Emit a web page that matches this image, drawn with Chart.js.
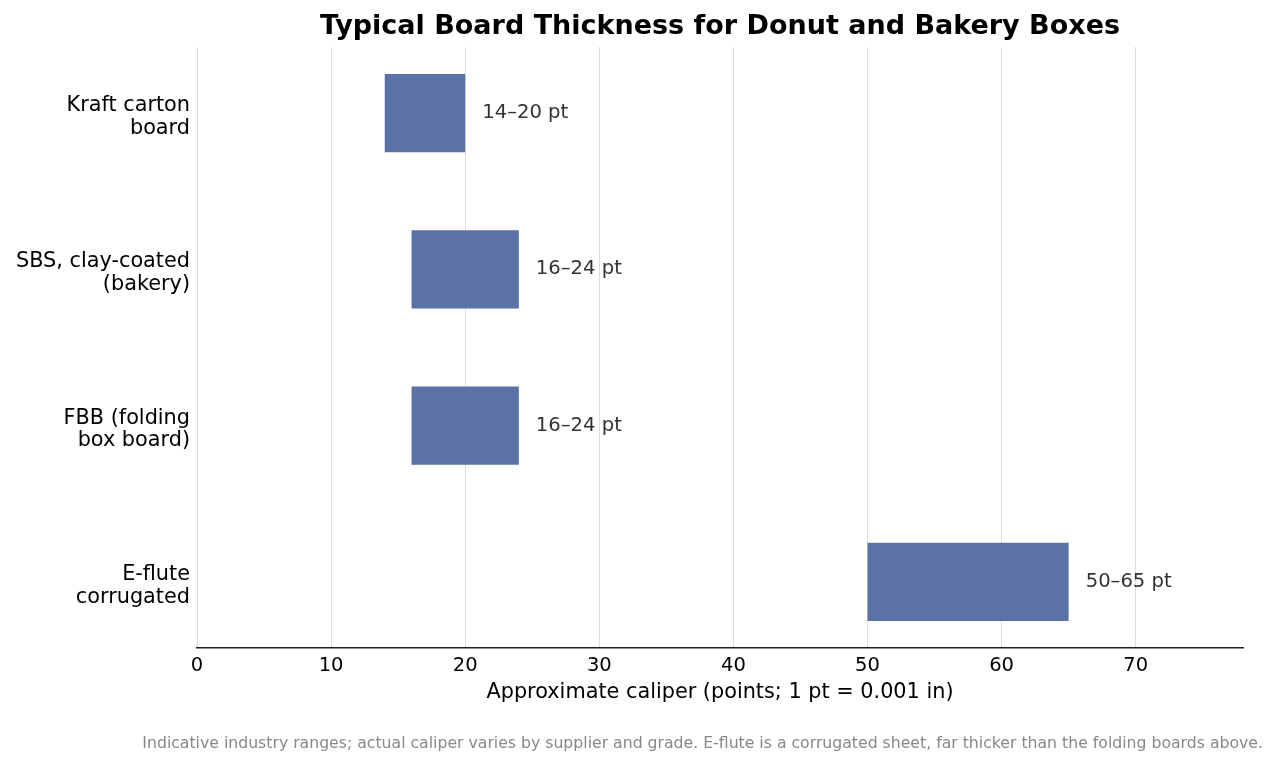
<!DOCTYPE html>
<html>
<head>
<meta charset="utf-8">
<script src="https://cdn.jsdelivr.net/npm/chart.js@4/dist/chart.umd.min.js"></script>
<style>
  html, body { margin: 0; padding: 0; background: #ffffff; }
  canvas { display: block; }
</style>
</head>
<body>
<canvas id="c" width="1278" height="767"></canvas>
<script>
// ---- data ----
const categories = [
  ["Kraft carton", "board"],
  ["SBS, clay-coated", "(bakery)"],
  ["FBB (folding", "box board)"],
  ["E-flute", "corrugated"]
];
const rangeLow  = [14, 16, 16, 50];
const rangeHigh = [20, 24, 24, 65];
const valueLabels = ["14–20 pt", "16–24 pt", "16–24 pt", "50–65 pt"];
const xTicks = [0, 10, 20, 30, 40, 50, 60, 70];
const titleText = "Typical Board Thickness for Donut and Bakery Boxes";
const xAxisTitle = "Approximate caliper (points; 1 pt = 0.001 in)";
const footnote = "Indicative industry ranges; actual caliper varies by supplier and grade. E-flute is a corrugated sheet, far thicker than the folding boards above.";

const FONT = "'DejaVu Sans', sans-serif";
const barData = categories.map((c, i) => ({ y: i, x: [rangeLow[i], rangeHigh[i]] }));

const labelPlugin = {
  id: 'labels',
  afterDatasetsDraw(chart) {
    const ctx = chart.ctx;
    const meta = chart.getDatasetMeta(0);
    ctx.save();
    ctx.font = "19.6px " + FONT;
    ctx.fillStyle = "#333333";
    ctx.textAlign = "left";
    ctx.textBaseline = "middle";
    meta.data.forEach((el, i) => {
      ctx.fillText(valueLabels[i], el.x + 17, el.y);
    });
    ctx.restore();
  },
  afterDraw(chart) {
    const ctx = chart.ctx;
    ctx.save();
    ctx.font = "15.7px " + FONT;
    ctx.fillStyle = "#888888";
    ctx.textAlign = "right";
    ctx.textBaseline = "middle";
    ctx.fillText(footnote, 1263, 744);
    ctx.restore();
  }
};

new Chart(document.getElementById('c'), {
  type: 'bar',
  data: {
    datasets: [{
      data: barData,
      backgroundColor: '#5b72a6',
      borderWidth: 0,
      barPercentage: 0.5,
      categoryPercentage: 1.0
    }]
  },
  options: {
    indexAxis: 'y',
    responsive: false,
    animation: false,
    devicePixelRatio: 1,
    layout: { padding: { left: 0, right: 35, top: 0, bottom: 0 } },
    plugins: {
      legend: { display: false },
      tooltip: { enabled: false },
      title: {
        display: true,
        text: titleText,
        fullSize: false,
        color: '#000000',
        font: { family: FONT, size: 27, weight: 'bold', lineHeight: 1.2 },
        padding: { top: 11, bottom: 3.6 }
      }
    },
    scales: {
      x: {
        type: 'linear',
        position: 'bottom',
        min: 0,
        max: 78,
        bounds: 'data',
        offset: false,
        afterFit(scale) { scale.height = 119; },
        afterBuildTicks(scale) { scale.ticks = xTicks.map(v => ({ value: v })); },
        ticks: {
          color: '#000000',
          font: { family: FONT, size: 19.5 },
          padding: 6
        },
        grid: { display: true, color: '#dddddd', lineWidth: 1, drawTicks: false, offset: false },
        border: { display: true, color: '#222222', width: 1.5 },
        title: {
          display: true,
          text: xAxisTitle,
          color: '#000000',
          font: { family: FONT, size: 20.8 },
          padding: { top: 0, bottom: 62 }
        }
      },
      y: {
        type: 'linear',
        reverse: true,
        min: -0.423,
        max: categories.length - 1 + 0.423,
        bounds: 'data',
        offset: false,
        afterFit(scale) { scale.width = 197; },
        afterBuildTicks(scale) { scale.ticks = categories.map((c, i) => ({ value: i })); },
        ticks: {
          color: '#000000',
          font: { family: FONT, size: 20.8, lineHeight: 1.1 },
          padding: 7,
          labelOffset: 4,
          callback: (v) => categories[Math.round(v)] || ''
        },
        grid: { display: false, drawTicks: false, offset: false },
        border: { display: false }
      }
    }
  },
  plugins: [labelPlugin]
});
</script>
</body>
</html>
